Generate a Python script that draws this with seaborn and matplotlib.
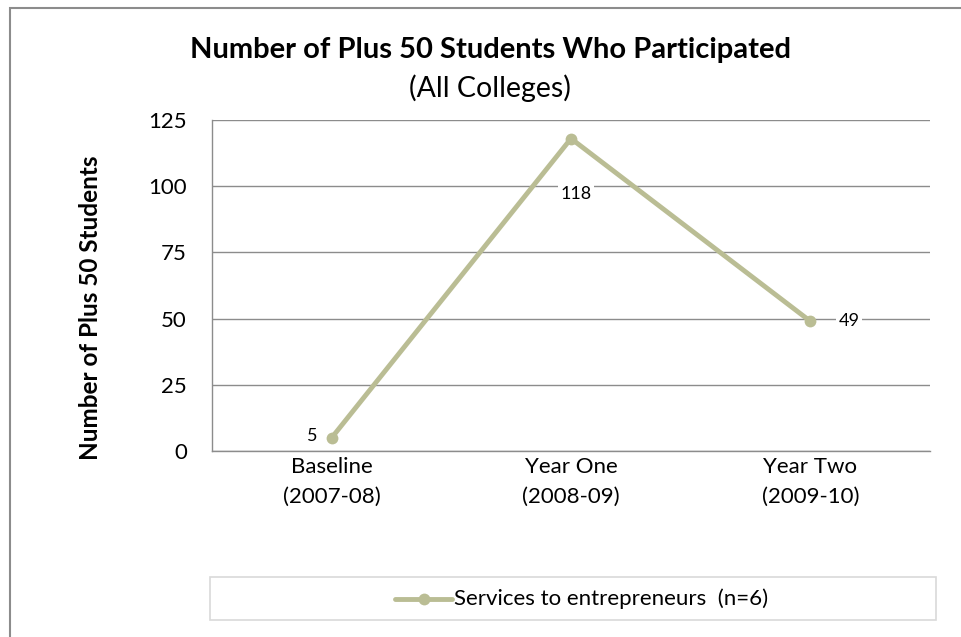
import matplotlib.pyplot as plt
import seaborn as sns
import pandas as pd
from matplotlib.patches import Rectangle

# Chart data
periods = ["Baseline\n(2007-08)", "Year One\n(2008-09)", "Year Two\n(2009-10)"]
students = [5, 118, 49]
series_name = "Services to entrepreneurs  (n=6)"
y_ticks = [0, 25, 50, 75, 100, 125]

df = pd.DataFrame({"period": periods, "students": students, "series": series_name})
df["pos"] = range(len(df))

sns.set_style("white")
plt.rcParams["font.family"] = ["Lato", "DejaVu Sans"]
plt.rcParams["text.color"] = "black"
plt.rcParams["xtick.color"] = "black"
plt.rcParams["ytick.color"] = "black"
plt.rcParams["axes.labelcolor"] = "black"

line_color = "#BABD94"
grid_color = "#8C8C8C"

fig = plt.figure(figsize=(9.61, 6.37), dpi=100)
ax = fig.add_axes([212 / 961, 1 - 451 / 637, (930 - 212) / 961, (451 - 120) / 637])

sns.lineplot(data=df, x="pos", y="students", hue="series", palette=[line_color],
             marker="o", markersize=8.5, markeredgewidth=0, linewidth=3.5, ax=ax,
             legend=False)

ax.set_xlim(-0.5, 2.5)
ax.set_ylim(0, 125)
ax.set_yticks(y_ticks)
ax.set_yticklabels([str(t) for t in y_ticks], fontsize=16)
ax.set_xticks(df["pos"])
ax.set_xticklabels(periods, fontsize=16, linespacing=1.65)
ax.set_xticks([-0.5, 0.5, 1.5, 2.5], minor=True)
ax.tick_params(axis="x", which="major", length=0, pad=4)
ax.tick_params(axis="x", which="minor", length=5, color=grid_color, width=1)
ax.tick_params(axis="y", length=5, color=grid_color, width=1, pad=13)
ax.set_xlabel("")
ax.set_ylabel("Number of Plus 50 Students", fontsize=17.5, fontweight="bold")
ax.yaxis.set_label_coords((90 - 212) / 718, 1 - (308 - 120) / 331)
ax.yaxis.label.set_va("center")
ax.yaxis.grid(True, color=grid_color, linewidth=1)
ax.set_axisbelow(True)
for side in ["top", "right"]:
    ax.spines[side].set_visible(False)
for side in ["left", "bottom"]:
    ax.spines[side].set_color(grid_color)
    ax.spines[side].set_linewidth(1)

# Data labels
label_style = dict(fontsize=13, color="black", va="center", ha="center")
ax.annotate(str(students[0]), (0, students[0]), xytext=(-14, 1.5), textcoords="offset points",
            **label_style)
ax.annotate(str(students[1]), (1, students[1]), xytext=(3.6, -40), textcoords="offset points",
            bbox=dict(facecolor="white", edgecolor="none", pad=2), **label_style)
ax.annotate(str(students[2]), (2, students[2]), xytext=(28, 0), textcoords="offset points",
            bbox=dict(facecolor="white", edgecolor="none", pad=2), **label_style)

# Titles
fig.text(490 / 961, 1 - 50 / 637, "Number of Plus 50 Students Who Participated",
         ha="center", va="center", fontsize=21, fontweight="bold")
fig.text(490 / 961, 1 - 88 / 637, "(All Colleges)", ha="center", va="center", fontsize=20.5)

# Legend box
fig.patches.append(Rectangle((210 / 961, 1 - 620 / 637), (936 - 210) / 961, 43 / 637,
                             transform=fig.transFigure, facecolor="white",
                             edgecolor="#D9D9D9", linewidth=1.2))
fig.add_artist(plt.Line2D([395 / 961, 452 / 961], [1 - 599 / 637] * 2,
                          transform=fig.transFigure, color=line_color, linewidth=3.5))
fig.add_artist(plt.Line2D([424 / 961], [1 - 599 / 637], transform=fig.transFigure,
                          color=line_color, marker="o", markersize=8.5, markeredgewidth=0))
fig.text(454 / 961, 1 - 599 / 637, series_name, ha="left", va="center", fontsize=16)

# Outer chart border
fig.patches.append(Rectangle((10 / 961, -0.1), 1.1, 1 - 8 / 637 + 0.1,
                             transform=fig.transFigure, facecolor="none",
                             edgecolor="#8C8C8C", linewidth=1.5))

fig.savefig("out.png", dpi=100)
